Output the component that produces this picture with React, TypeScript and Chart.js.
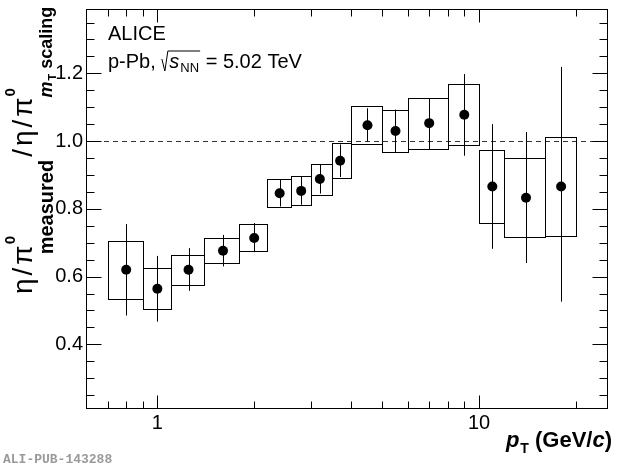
import { useEffect, useRef } from "react";
import { Chart, registerables } from "chart.js";
Chart.register(...registerables);

// eta/pi0 measured over eta/pi0 from mT scaling, p-Pb 5.02 TeV
const ptCenter = [0.8, 1.0, 1.25, 1.6, 2.0, 2.4, 2.8, 3.2, 3.7, 4.5, 5.5, 7.0, 9.0, 11.0, 14.0, 18.0];
const binLow = [0.7, 0.9, 1.1, 1.4, 1.8, 2.2, 2.6, 3.0, 3.5, 4.0, 5.0, 6.0, 8.0, 10.0, 12.0, 16.0];
const binHigh = [0.9, 1.1, 1.4, 1.8, 2.2, 2.6, 3.0, 3.5, 4.0, 5.0, 6.0, 8.0, 10.0, 12.0, 16.0, 20.0];
const ratio = [0.62, 0.564, 0.62, 0.676, 0.714, 0.846, 0.853, 0.888, 0.942, 1.047, 1.03, 1.053, 1.078, 0.866, 0.833, 0.866];
const statLow = [0.485, 0.467, 0.558, 0.63, 0.672, 0.807, 0.812, 0.845, 0.894, 0.999, 0.968, 0.976, 0.957, 0.682, 0.64, 0.526];
const statHigh = [0.755, 0.661, 0.684, 0.723, 0.758, 0.885, 0.895, 0.93, 0.99, 1.097, 1.093, 1.126, 1.198, 1.05, 1.027, 1.219];
const sysLow = [0.533, 0.505, 0.576, 0.64, 0.676, 0.804, 0.81, 0.841, 0.891, 0.991, 0.968, 0.976, 0.987, 0.757, 0.716, 0.72];
const sysHigh = [0.706, 0.624, 0.663, 0.714, 0.755, 0.888, 0.897, 0.932, 0.994, 1.104, 1.093, 1.126, 1.168, 0.975, 0.949, 1.013];

const xMajorTicks = [1, 10];
const xMinorTicks = [0.7, 0.8, 0.9, 2, 3, 4, 5, 6, 7, 8, 9, 20];
const yMajorTicks = [0.4, 0.6, 0.8, 1.0, 1.2];
const yMinorTicks = [0.25, 0.3, 0.35, 0.45, 0.5, 0.55, 0.65, 0.7, 0.75, 0.85, 0.9, 0.95, 1.05, 1.1, 1.15, 1.25, 1.3, 1.35];

const FONT = "'Liberation Sans', Arial, Helvetica, sans-serif";

type Run = { text: string; font: string; dy?: number; dx?: number };

function runsWidth(ctx: CanvasRenderingContext2D, runs: Run[]) {
  let w = 0;
  for (const r of runs) {
    ctx.font = r.font;
    w += ctx.measureText(r.text).width + (r.dx ?? 0);
  }
  return w;
}

function drawRuns(ctx: CanvasRenderingContext2D, runs: Run[], x: number, y: number) {
  let cx = x;
  for (const r of runs) {
    ctx.font = r.font;
    cx += r.dx ?? 0;
    ctx.fillText(r.text, cx, y + (r.dy ?? 0));
    cx += ctx.measureText(r.text).width;
  }
  return cx;
}

// draws glyph by glyph with extra gap, returns end position
function drawSpaced(ctx: CanvasRenderingContext2D, text: string, x: number, y: number, gap: number) {
  let cx = x;
  const chars = Array.from(text);
  chars.forEach((ch, i) => {
    ctx.fillText(ch, cx, y);
    cx += ctx.measureText(ch).width + (i < chars.length - 1 ? gap : 0);
  });
  return cx;
}

const rootPlugin = {
  id: "rootStyle",
  beforeDatasetsDraw(chart: any) {
    const { ctx, chartArea: a } = chart;
    const xs = chart.scales.x;
    const ys = chart.scales.y;
    ctx.save();
    // reference line at 1
    const y1 = Math.round(ys.getPixelForValue(1)) + 0.5;
    ctx.strokeStyle = "#333";
    ctx.lineWidth = 1;
    ctx.setLineDash([5, 4]);
    ctx.beginPath();
    ctx.moveTo(a.left, y1);
    ctx.lineTo(a.right, y1);
    ctx.stroke();
    ctx.setLineDash([]);

    // systematic boxes and statistical bars
    ctx.strokeStyle = "#000";
    for (let i = 0; i < ptCenter.length; i++) {
      const x0 = Math.round(xs.getPixelForValue(binLow[i])) + 0.5;
      const x1 = Math.round(xs.getPixelForValue(binHigh[i])) + 0.5;
      const yt = Math.round(ys.getPixelForValue(sysHigh[i])) + 0.5;
      const yb = Math.round(ys.getPixelForValue(sysLow[i])) + 0.5;
      ctx.strokeRect(x0, yt, x1 - x0, yb - yt);
      const xc = Math.round(xs.getPixelForValue(ptCenter[i])) + 0.5;
      ctx.beginPath();
      ctx.moveTo(xc, ys.getPixelForValue(statHigh[i]));
      ctx.lineTo(xc, ys.getPixelForValue(statLow[i]));
      ctx.stroke();
    }
    ctx.restore();
  },
  afterDraw(chart: any) {
    const { ctx, chartArea: a } = chart;
    const xs = chart.scales.x;
    const ys = chart.scales.y;
    const L = Math.round(a.left) + 0.5;
    const R = Math.round(a.right) + 0.5;
    const T = Math.round(a.top) + 0.5;
    const B = Math.round(a.bottom) + 0.5;
    ctx.save();
    ctx.strokeStyle = "#000";
    ctx.lineWidth = 1;
    ctx.strokeRect(L, T, R - L, B - T);

    ctx.beginPath();
    const xTick = (v: number, len: number) => {
      const px = Math.round(xs.getPixelForValue(v)) + 0.5;
      ctx.moveTo(px, B);
      ctx.lineTo(px, B - len);
      ctx.moveTo(px, T);
      ctx.lineTo(px, T + len);
    };
    const yTick = (v: number, len: number) => {
      const py = Math.round(ys.getPixelForValue(v)) + 0.5;
      ctx.moveTo(L, py);
      ctx.lineTo(L + len, py);
      ctx.moveTo(R, py);
      ctx.lineTo(R - len, py);
    };
    xMajorTicks.forEach((v) => xTick(v, 13));
    xMinorTicks.forEach((v) => xTick(v, 7));
    yMajorTicks.forEach((v) => yTick(v, 15));
    yMinorTicks.forEach((v) => yTick(v, 8));
    ctx.stroke();

    ctx.fillStyle = "#000";
    ctx.textBaseline = "alphabetic";
    ctx.textAlign = "left";

    // header text
    ctx.font = `20px ${FONT}`;
    ctx.fillText("ALICE", 108, 40);
    const x0 = 108;
    const yb = 68;
    ctx.fillText("p-Pb, ", x0, yb);
    let cx = x0 + ctx.measureText("p-Pb, ").width;
    const rootStart = cx;
    cx += 8;
    const sEnd = drawRuns(
      ctx,
      [
        { text: "s", font: `italic 20px ${FONT}` },
        { text: "NN", font: `13px ${FONT}`, dy: 4, dx: 1 },
      ],
      cx,
      yb
    );
    ctx.beginPath();
    ctx.moveTo(rootStart + 0.5, yb - 9);
    ctx.lineTo(rootStart + 3.5, yb + 3);
    ctx.lineTo(rootStart + 6.5, yb - 17);
    ctx.lineTo(sEnd + 1, yb - 17);
    ctx.stroke();
    ctx.font = `20px ${FONT}`;
    ctx.fillText(" = 5.02 TeV", sEnd + 1, yb);

    // x title
    const xRuns: Run[] = [
      { text: "p", font: `italic bold 22px ${FONT}` },
      { text: "T", font: `bold 14px ${FONT}`, dy: 6, dx: 1 },
      { text: " (GeV/", font: `bold 22px ${FONT}` },
      { text: "c", font: `italic bold 22px ${FONT}` },
      { text: ")", font: `bold 22px ${FONT}` },
    ];
    drawRuns(ctx, xRuns, 612 - runsWidth(ctx, xRuns), 447);

    // y title, rotated
    ctx.save();
    ctx.translate(32, 294);
    ctx.rotate(-Math.PI / 2);
    const main = `28px ${FONT}`;
    const sup = `bold 15px ${FONT}`;
    ctx.font = main;
    let p = drawSpaced(ctx, "η/π", 0, 0, 3);
    ctx.font = sup;
    ctx.fillText("0", p + 1, -17);
    ctx.font = `bold 20px ${FONT}`;
    const subStart = p - 9;
    ctx.fillText("measured", subStart, 21);
    p = subStart + ctx.measureText("measured").width + 3;
    ctx.font = main;
    p = drawSpaced(ctx, "/η/π", p, 0, 3);
    ctx.font = sup;
    ctx.fillText("0", p + 1, -17);
    drawRuns(
      ctx,
      [
        { text: "m", font: `italic bold 18px ${FONT}` },
        { text: "T", font: `bold 11px ${FONT}`, dy: 4, dx: 1 },
        { text: " scaling", font: `bold 18px ${FONT}` },
      ],
      p,
      20
    );
    ctx.restore();

    // watermark
    ctx.fillStyle = "#9a9a9a";
    ctx.font = `bold 13px 'Liberation Mono', 'DejaVu Sans Mono', monospace`;
    ctx.fillText("ALI-PUB-143288", 3, 463);
    ctx.restore();
  },
};

export default function App() {
  const canvasRef = useRef<HTMLCanvasElement>(null);
  const chartRef = useRef<Chart | null>(null);

  useEffect(() => {
    if (chartRef.current) chartRef.current.destroy();
    if (!canvasRef.current) return;
    const ctx = canvasRef.current.getContext("2d");
    if (!ctx) return;

    chartRef.current = new Chart(ctx, {
      type: "scatter",
      data: {
        datasets: [
          {
            data: ptCenter.map((x, i) => ({ x, y: ratio[i] })),
            pointRadius: 5,
            pointHoverRadius: 5,
            pointBackgroundColor: "#000",
            pointBorderWidth: 0,
            showLine: false,
          },
        ],
      },
      options: {
        responsive: false,
        animation: false,
        events: [],
        layout: { padding: { top: 9, right: 13, left: 0, bottom: 0 } },
        plugins: { legend: { display: false }, tooltip: { enabled: false } },
        scales: {
          x: {
            type: "logarithmic",
            min: 0.6,
            max: 25,
            grid: { display: false, drawTicks: false },
            border: { display: false },
            afterBuildTicks: (s: any) => {
              s.ticks = xMajorTicks.map((value) => ({ value }));
            },
            afterFit: (s: any) => {
              s.height = 57;
              s.paddingLeft = 0;
              s.paddingRight = 0;
            },
            ticks: {
              autoSkip: false,
              maxRotation: 0,
              padding: 3,
              color: "#000",
              font: { family: FONT, size: 20 },
              callback: (v: any) => String(v),
            },
          },
          y: {
            min: 0.212,
            max: 1.39,
            grid: { display: false, drawTicks: false },
            border: { display: false },
            afterBuildTicks: (s: any) => {
              s.ticks = yMajorTicks.map((value) => ({ value }));
            },
            afterFit: (s: any) => {
              s.width = 86;
              s.paddingTop = 0;
              s.paddingBottom = 0;
            },
            ticks: {
              padding: 3,
              color: "#000",
              font: { family: FONT, size: 20 },
              callback: (v: any) => Number(v).toFixed(1),
            },
          },
        },
      },
      plugins: [rootPlugin],
    } as any);

    return () => {
      if (chartRef.current) {
        chartRef.current.destroy();
        chartRef.current = null;
      }
    };
  }, []);

  return (
    <div style={{ position: "absolute", left: 0, top: 0, width: 620, height: 465, background: "#fff" }}>
      <canvas ref={canvasRef} width={620} height={465} style={{ display: "block" }} />
    </div>
  );
}
